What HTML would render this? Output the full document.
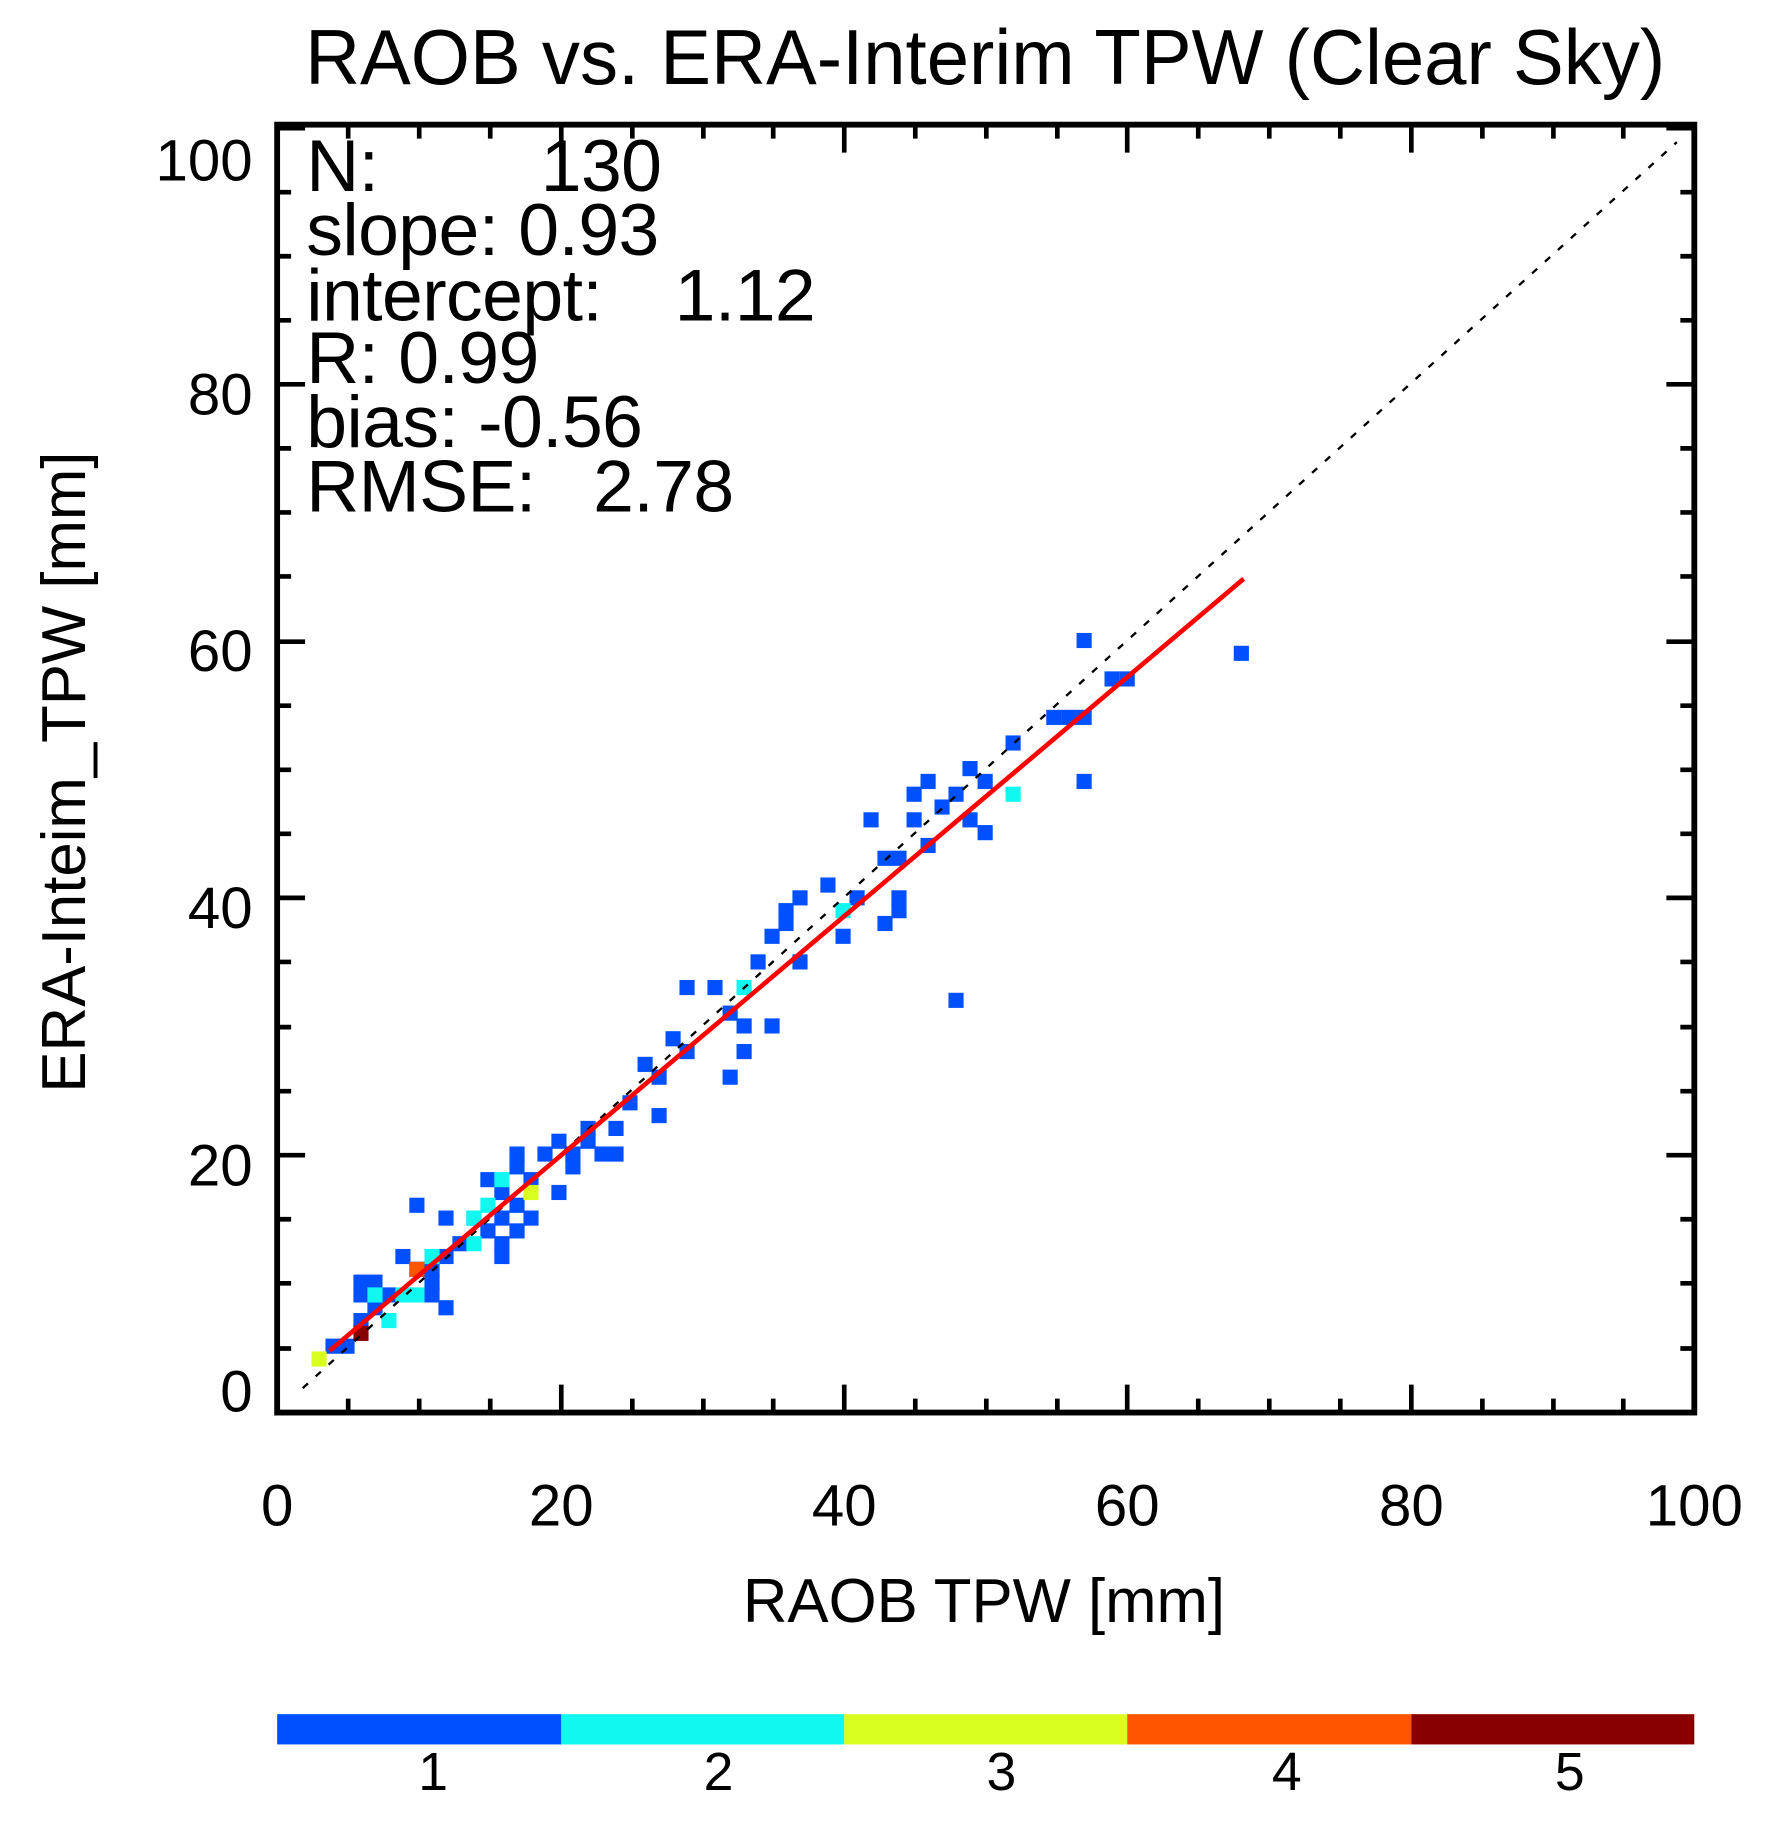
<!DOCTYPE html>
<html><head><style>html,body{margin:0;padding:0;background:#fff}svg{display:block}</style></head>
<body>
<svg width="1770" height="1826" viewBox="0 0 1520 1568" xmlns="http://www.w3.org/2000/svg" font-family="Liberation Sans, Arial, sans-serif">
<rect width="1520" height="1568" fill="#fff"/>
<text x="846" y="72" font-size="67" text-anchor="middle" textLength="1168" lengthAdjust="spacingAndGlyphs">RAOB vs. ERA-Interim TPW (Clear Sky)</text>
<g transform="translate(-0.5,-0.5)">
<g fill="#0050ff">
<rect x="925" y="544" width="13" height="13"/><rect x="1060" y="555" width="13" height="13"/><rect x="949" y="577" width="13" height="13"/><rect x="962" y="577" width="13" height="13"/><rect x="899" y="610" width="13" height="13"/><rect x="912" y="610" width="13" height="13"/><rect x="925" y="610" width="13" height="13"/><rect x="925" y="665" width="13" height="13"/><rect x="864" y="632" width="13" height="13"/><rect x="827" y="654" width="13" height="13"/><rect x="815" y="676" width="13" height="13"/><rect x="791" y="665" width="13" height="13"/><rect x="779" y="676" width="13" height="13"/><rect x="840" y="665" width="13" height="13"/><rect x="803" y="687" width="13" height="13"/><rect x="827" y="698" width="13" height="13"/><rect x="840" y="709" width="13" height="13"/><rect x="742" y="698" width="13" height="13"/><rect x="779" y="698" width="13" height="13"/><rect x="766" y="731" width="13" height="13"/><rect x="754" y="731" width="13" height="13"/><rect x="791" y="720" width="13" height="13"/><rect x="766" y="765" width="13" height="13"/><rect x="766" y="776" width="13" height="13"/><rect x="754" y="787" width="13" height="13"/><rect x="681" y="765" width="13" height="13"/><rect x="705" y="754" width="13" height="13"/><rect x="730" y="765" width="13" height="13"/><rect x="718" y="798" width="13" height="13"/><rect x="669" y="776" width="13" height="13"/><rect x="669" y="787" width="13" height="13"/><rect x="657" y="798" width="13" height="13"/><rect x="645" y="820" width="13" height="13"/><rect x="681" y="820" width="13" height="13"/><rect x="815" y="853" width="13" height="13"/><rect x="584" y="842" width="13" height="13"/><rect x="608" y="842" width="13" height="13"/><rect x="621" y="864" width="13" height="13"/><rect x="633" y="875" width="13" height="13"/><rect x="657" y="875" width="13" height="13"/><rect x="633" y="897" width="13" height="13"/><rect x="621" y="919" width="13" height="13"/><rect x="572" y="886" width="13" height="13"/><rect x="584" y="897" width="13" height="13"/><rect x="548" y="908" width="13" height="13"/><rect x="560" y="919" width="13" height="13"/><rect x="535" y="941" width="13" height="13"/><rect x="560" y="952" width="13" height="13"/><rect x="523" y="963" width="13" height="13"/><rect x="499" y="963" width="13" height="13"/><rect x="523" y="985" width="13" height="13"/><rect x="511" y="985" width="13" height="13"/><rect x="486" y="985" width="13" height="13"/><rect x="499" y="974" width="13" height="13"/><rect x="474" y="974" width="13" height="13"/><rect x="486" y="996" width="13" height="13"/><rect x="462" y="985" width="13" height="13"/><rect x="438" y="985" width="13" height="13"/><rect x="438" y="996" width="13" height="13"/><rect x="450" y="1007" width="13" height="13"/><rect x="474" y="1018" width="13" height="13"/><rect x="413" y="1007" width="13" height="13"/><rect x="425" y="1018" width="13" height="13"/><rect x="438" y="1029" width="13" height="13"/><rect x="425" y="1040" width="13" height="13"/><rect x="413" y="1051" width="13" height="13"/><rect x="425" y="1062" width="13" height="13"/><rect x="425" y="1073" width="13" height="13"/><rect x="401" y="1040" width="13" height="13"/><rect x="389" y="1062" width="13" height="13"/><rect x="377" y="1040" width="13" height="13"/><rect x="352" y="1029" width="13" height="13"/><rect x="377" y="1073" width="13" height="13"/><rect x="365" y="1084" width="13" height="13"/><rect x="340" y="1073" width="13" height="13"/><rect x="352" y="1084" width="13" height="13"/><rect x="365" y="1095" width="13" height="13"/><rect x="365" y="1106" width="13" height="13"/><rect x="377" y="1117" width="13" height="13"/><rect x="316" y="1095" width="13" height="13"/><rect x="304" y="1095" width="13" height="13"/><rect x="304" y="1106" width="13" height="13"/><rect x="316" y="1117" width="13" height="13"/><rect x="328" y="1106" width="13" height="13"/><rect x="304" y="1128" width="13" height="13"/><rect x="292" y="1150" width="13" height="13"/><rect x="280" y="1150" width="13" height="13"/><rect x="450" y="1040" width="13" height="13"/><rect x="438" y="1051" width="13" height="13"/>
</g>
<g fill="#10f8f0">
<rect x="864" y="676" width="13" height="13"/><rect x="718" y="776" width="13" height="13"/><rect x="633" y="842" width="13" height="13"/><rect x="401" y="1062" width="13" height="13"/><rect x="413" y="1029" width="13" height="13"/><rect x="425" y="1007" width="13" height="13"/><rect x="401" y="1040" width="13" height="13"/><rect x="328" y="1128" width="13" height="13"/><rect x="352" y="1106" width="13" height="13"/><rect x="340" y="1106" width="13" height="13"/><rect x="365" y="1073" width="13" height="13"/><rect x="316" y="1106" width="13" height="13"/>
</g>
<rect x="450" y="1018" width="13" height="13" fill="#d8ff20"/>
<rect x="268" y="1161" width="13" height="13" fill="#d8ff20"/>
<rect x="352" y="1084" width="13" height="13" fill="#ff5500"/>
<rect x="304" y="1139" width="13" height="13" fill="#880000"/>
</g>
<line x1="260" y1="1192" x2="1440" y2="122" stroke="#000" stroke-width="2" stroke-dasharray="6,9"/>
<line x1="283" y1="1160" x2="1068" y2="497" stroke="#ff0000" stroke-width="4"/>
<g stroke="#000" stroke-width="4">
<path d="
M238,1213h24M238,992h24M238,771h24M238,551h24M238,330h24M238,110h24
M1455,1213h-24M1455,992h-24M1455,771h-24M1455,551h-24M1455,330h-24M1455,110h-24
M238,1158h12M238,1102h12M238,1047h12M238,937h12M238,882h12M238,826h12M238,716h12M238,661h12M238,606h12M238,495h12M238,440h12M238,385h12M238,275h12M238,220h12M238,165h12
M1455,1158h-12M1455,1102h-12M1455,1047h-12M1455,937h-12M1455,882h-12M1455,826h-12M1455,716h-12M1455,661h-12M1455,606h-12M1455,495h-12M1455,440h-12M1455,385h-12M1455,275h-12M1455,220h-12M1455,165h-12
M482,1213v-24M725,1213v-24M968,1213v-24M1212,1213v-24
M482,107v24M725,107v24M968,107v24M1212,107v24
M299,1213v-12M360,1213v-12M421,1213v-12M543,1213v-12M604,1213v-12M664,1213v-12M786,1213v-12M847,1213v-12M908,1213v-12M1029,1213v-12M1090,1213v-12M1151,1213v-12M1273,1213v-12M1334,1213v-12M1394,1213v-12
M299,107v12M360,107v12M421,107v12M543,107v12M604,107v12M664,107v12M786,107v12M847,107v12M908,107v12M1029,107v12M1090,107v12M1151,107v12M1273,107v12M1334,107v12M1394,107v12"/>
</g>
<rect x="238" y="107" width="1217" height="1106" fill="none" stroke="#000" stroke-width="5"/>
<g font-size="50" text-anchor="end">
<text x="217" y="1212">0</text><text x="217" y="1018">20</text><text x="217" y="797">40</text><text x="217" y="576">60</text><text x="217" y="356">80</text><text x="217" y="155">100</text>
</g>
<g font-size="50" text-anchor="middle">
<text x="238" y="1310">0</text><text x="482" y="1310">20</text><text x="725" y="1310">40</text><text x="968" y="1310">60</text><text x="1212" y="1310">80</text><text x="1455" y="1310">100</text>
</g>
<text x="845" y="1393" font-size="53" text-anchor="middle">RAOB TPW [mm]</text>
<text transform="translate(73,663) rotate(-90)" font-size="53" text-anchor="middle">ERA-Inteim_TPW [mm]</text>
<g font-size="63" letter-spacing="-0.5">
<text x="263" y="164">N:</text><text x="568" y="164" text-anchor="end">130</text>
<text x="263" y="219">slope: 0.93</text>
<text x="263" y="275">intercept:</text><text x="700" y="275" text-anchor="end">1.12</text>
<text x="263" y="329">R: 0.99</text>
<text x="263" y="384">bias: -0.56</text>
<text x="263" y="439">RMSE:</text><text x="630" y="439" text-anchor="end">2.78</text>
</g>
<rect x="238" y="1472" width="244" height="26" fill="#0050ff"/>
<rect x="482" y="1472" width="243" height="26" fill="#10f8f0"/>
<rect x="725" y="1472" width="243" height="26" fill="#d8ff20"/>
<rect x="968" y="1472" width="244" height="26" fill="#ff5500"/>
<rect x="1212" y="1472" width="243" height="26" fill="#880000"/>
<g font-size="46" text-anchor="middle">
<text x="372" y="1537">1</text><text x="617" y="1537">2</text><text x="860" y="1537">3</text><text x="1105" y="1537">4</text><text x="1348" y="1537">5</text>
</g>
</svg>
</body></html>
